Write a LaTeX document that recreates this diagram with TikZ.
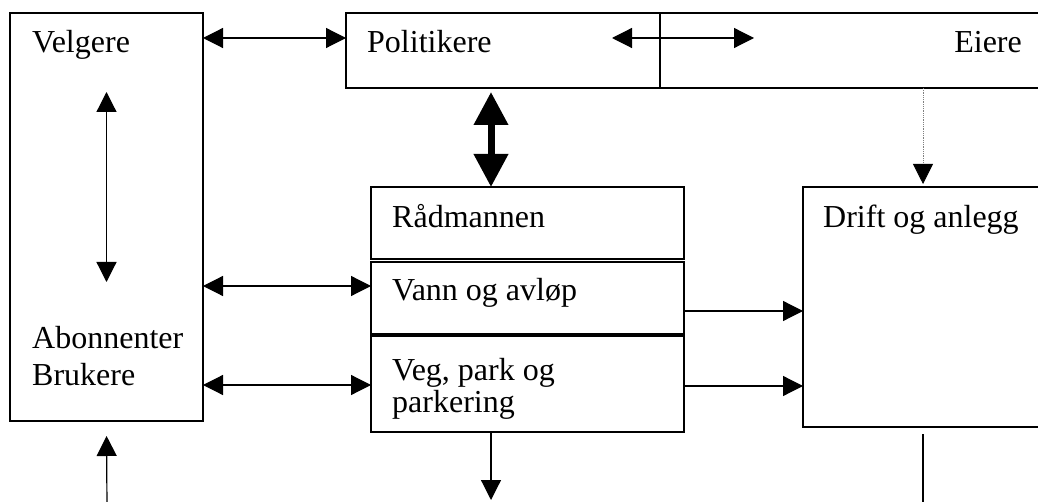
\documentclass[tikz,border=0pt]{standalone}
\usepackage{fontspec}
\setmainfont{Liberation Serif}
\usetikzlibrary{arrows.meta,positioning}

\begin{document}
\begin{tikzpicture}[x=1pt, y=-1pt, box/.style={rectangle, draw, line width=1.2pt, inner sep=0pt, outer sep=0pt, anchor=north west}, txt/.style={font=\fontsize{32}{37}\selectfont, inner sep=0pt, align=left}, arrow/.style={-{Triangle[length=20pt, width=20pt]}, line width=1.2pt}, dbl/.style={{Triangle[length=20pt, width=20pt]}-{Triangle[length=20pt, width=20pt]}, line width=1.2pt}, fat/.style={{Triangle[length=33pt, width=33pt]}-{Triangle[length=33pt, width=33pt]}, line width=7pt}, dotarrow/.style={-{Triangle[length=20pt, width=20pt, color=black]}, densely dotted, draw=gray, line width=0.8pt}]
        \useasboundingbox (0,0) rectangle (1038,502);
        \clip (0,0) rectangle (1038,502);
        % boxes
        \node[box, minimum width=193pt, minimum height=408pt] (velg) at (10,13) {};
        \node[box, minimum width=314pt, minimum height=75pt] (pol) at (346,13) {};
        \node[box, minimum width=400pt, minimum height=75pt] (eier) at (pol.north east) {};
        \node[box, minimum width=313pt, minimum height=72pt] (raad) at (371,187) {};
        \node[box, minimum width=313pt, minimum height=72pt, below=3pt of raad] (vann) {};
        \node[box, minimum width=313pt, minimum height=96pt, below=2pt of vann] (veg) {};
        \node[box, minimum width=260pt, minimum height=240pt] (drift) at (803,187) {};
        % texts (base = last line)
        \node[txt, anchor=base west] (velgtxt) at (32,53) {Velgere};
        \node[txt, anchor=base west] (abontxt) at (32,385) {Abonnenter\\Brukere};
        \node[txt, anchor=base west] (poltxt) at (367,53) {Politikere};
        \node[txt, anchor=base east] (eiertxt) at (1022,53) {Eiere};
        \node[txt, anchor=base west] (raadtxt) at (392,228) {Rådmannen};
        \node[txt, anchor=base west] (vanntxt) at (392,301) {Vann og avløp};
        \node[txt, anchor=base west, font=\fontsize{32}{32}\selectfont] (vegtxt) at (392,412) {Veg, park og\\parkering};
        \node[txt, anchor=base west] (drifttxt) at (823,228) {Drift og anlegg};
        % free ends
        \coordinate (polin) at (612,38);
        \coordinate (eierin) at (754,38);
        \coordinate (velgin) at (107,510);
        \coordinate (vegout) at (491,500);
        \coordinate (driftout) at (923,510);
        % connectors
        \draw[dbl] (velg.east |- 0,38) -- (pol.west |- 0,38);
        \draw[dbl] (polin) -- (eierin);
        \draw[dbl] ([yshift=-79pt]velg.north) -- ([yshift=-269pt]velg.north);
        \draw[fat, shorten <=4pt] (pol.south -| 491,0) -- (raad.north -| 491,0);
        \draw[dotarrow, shorten >=3pt] (eier.south -| 923,0) -- (drift.north -| 923,0);
        \draw[dbl] (velg.east |- 0,286) -- (vann.west |- 0,286);
        \draw[dbl] (velg.east |- 0,385) -- (veg.west |- 0,385);
        \draw[arrow] (vann.east |- 0,311) -- (drift.west |- 0,311);
        \draw[arrow] (veg.east |- 0,386) -- (drift.west |- 0,386);
        \draw[arrow, shorten >=15pt] (velgin) -- (velg.south);
        \draw[arrow] (veg.south -| vegout) -- (vegout);
        \draw[line width=1.2pt, shorten <=7pt] (drift.south -| driftout) -- (driftout);
\end{tikzpicture}
\end{document}
